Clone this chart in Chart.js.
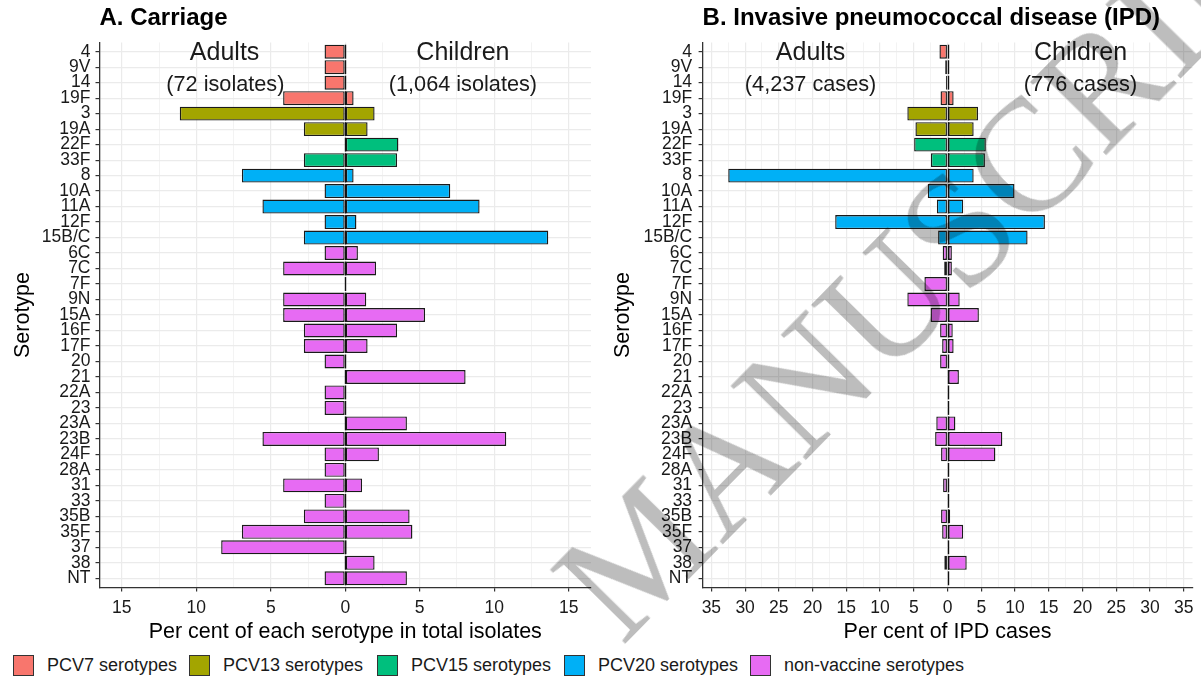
<!DOCTYPE html>
<html>
<head>
<meta charset="utf-8">
<title>Pneumococcal serotypes: carriage and invasive disease</title>
<script src="https://cdn.jsdelivr.net/npm/chart.js@4.4.1/dist/chart.umd.min.js"></script>
<style>
  html, body { margin: 0; padding: 0; background: #fff; }
  body { width: 1201px; height: 682px; position: relative; overflow: hidden;
         font-family: 'Liberation Sans', Arial, sans-serif; }
  canvas { position: absolute; top: 0; }
  #carriage { left: 0; }
  #ipd { left: 600px; }
  .key { position: absolute; top: 655px; height: 21px; display: flex; align-items: center;
         font-size: 18px; color: #1a1a1a; white-space: nowrap; }
  .key i { display: inline-block; width: 19px; height: 19px; border: 1px solid #333;
           margin-right: 13px; }
  #stamp { position: absolute; left: 622px; top: 513px; font-family: 'Liberation Serif', 'Times New Roman', serif;
           font-size: 160px; line-height: 1; color: #BDBDBD; white-space: nowrap;
           transform-origin: 0 134px; transform: rotate(-45.5deg); mix-blend-mode: multiply;
           pointer-events: none; }
</style>
</head>
<body>
<canvas id="carriage" width="600" height="650"></canvas>
<canvas id="ipd" width="601" height="650"></canvas>
<div id="legend"></div>
<div id="stamp">MANUSCRIPT</div>
<script>
// Serotypes, top to bottom
const serotypes = ['4','9V','14','19F','3','19A','22F','33F','8','10A','11A','12F','15B/C',
  '6C','7C','7F','9N','15A','16F','17F','20','21','22A','23','23A','23B','24F','28A',
  '31','33','35B','35F','37','38','NT'];

// Vaccine group of each serotype
const vaccineGroup = ['PCV7','PCV7','PCV7','PCV7','PCV13','PCV13','PCV15','PCV15',
  'PCV20','PCV20','PCV20','PCV20','PCV20',
  'NVT','NVT','NVT','NVT','NVT','NVT','NVT','NVT','NVT','NVT','NVT','NVT','NVT','NVT',
  'NVT','NVT','NVT','NVT','NVT','NVT','NVT','NVT'];

// A. Carriage: per cent of isolates (adults n=72, children n=1,064)
const carriageAdults = [1.39,1.39,1.39,4.17,11.11,2.78,0,2.78,6.94,1.39,5.56,1.39,2.78,
  1.39,4.17,0,4.17,4.17,2.78,2.78,1.39,0,1.39,1.39,0,5.56,1.39,1.39,4.17,1.39,2.78,6.94,8.33,0,1.39];
const carriageChildren = [0,0,0,0.56,1.97,1.50,3.57,3.48,0.56,7.05,9.02,0.75,13.63,
  0.85,2.07,0,1.41,5.36,3.48,1.50,0,8.08,0,0,4.14,10.81,2.26,0,1.13,0,4.32,4.51,0.09,1.97,4.14];

// B. IPD: per cent of cases (adults n=4,237, children n=776)
const ipdAdults = [1.20,0.35,0.25,1.04,5.96,4.76,4.95,2.46,32.5,2.93,1.58,16.65,1.40,
  0.72,0.50,3.43,5.96,2.52,1.10,0.80,1.10,0.09,0,0,1.67,1.84,0.96,0,0.66,0,0.96,0.80,0,0.48,0];
const ipdChildren = [0.13,0.13,0.13,0.90,4.51,3.87,5.67,5.54,3.87,9.92,2.32,14.43,11.86,
  0.64,0.64,0.13,1.80,4.64,0.77,0.90,0.13,1.68,0,0,1.16,8.12,7.09,0,0.13,0,0.39,2.32,0,2.84,0];

// Legend entries
const groupNames = ['PCV7','PCV13','PCV15','PCV20','NVT'];
const groupLabels = ['PCV7 serotypes','PCV13 serotypes','PCV15 serotypes','PCV20 serotypes','non-vaccine serotypes'];

// Styling
const FONT = "'Liberation Sans', Arial, sans-serif";
const groupColours = { PCV7: '#F8766D', PCV13: '#A3A500', PCV15: '#00BF7D', PCV20: '#00B0F6', NVT: '#E76BF3' };
const EDGE = '#1a1a1a';
const INK = '#1a1a1a';
const legendLeft = [13, 189, 377, 564, 750];

const fills = vaccineGroup.map(g => groupColours[g]);
const toBars = (values, sign) => values.map(v => (v === 0 ? null : sign * v));

// Outline at zero for every serotype (each bar band, including empty ones)
const zeroEdges = {
  id: 'zeroEdges',
  afterDatasetsDraw(chart) {
    const { ctx, scales: { x, y } } = chart;
    const step = y.getPixelForValue(1) - y.getPixelForValue(0);
    const x0 = Math.round(x.getPixelForValue(0)) + 0.5;
    ctx.save();
    ctx.strokeStyle = '#111';
    ctx.lineWidth = 1.4;
    chart.data.labels.forEach((_, i) => {
      const yc = y.getPixelForValue(i);
      ctx.beginPath();
      ctx.moveTo(x0, yc - 0.45 * step);
      ctx.lineTo(x0, yc + 0.45 * step);
      ctx.stroke();
    });
    ctx.restore();
  }
};

// Group headings inside the panels
const sideNotes = {
  id: 'sideNotes',
  afterDatasetsDraw(chart, args, opts) {
    const { ctx, scales: { x, y } } = chart;
    ctx.save();
    ctx.fillStyle = INK;
    ctx.textAlign = 'center';
    ctx.textBaseline = 'middle';
    (opts.items || []).forEach(it => {
      ctx.font = it.size + 'px ' + FONT;
      ctx.fillText(it.text, x.getPixelForValue(it.x), y.getPixelForValue(it.y));
    });
    ctx.restore();
  }
};

function panel(id, o) {
  const isMajor = v => Math.abs(v % 5) < 1e-6;
  return new Chart(document.getElementById(id), {
    type: 'bar',
    data: {
      labels: serotypes,
      datasets: [
        { label: 'Adults', data: toBars(o.adults, -1), backgroundColor: fills, borderColor: EDGE,
          borderWidth: 1.4, borderSkipped: false, barPercentage: 0.9, categoryPercentage: 1 },
        { label: 'Children', data: toBars(o.children, 1), backgroundColor: fills, borderColor: EDGE,
          borderWidth: 1.4, borderSkipped: false, barPercentage: 0.9, categoryPercentage: 1 }
      ]
    },
    options: {
      indexAxis: 'y',
      responsive: false,
      animation: false,
      devicePixelRatio: 1,
      layout: { padding: { left: 0, right: o.padRight, top: 0, bottom: 0 } },
      plugins: {
        legend: { display: false },
        tooltip: { enabled: false },
        title: { display: true, text: o.title, align: 'start', fullSize: false, color: '#000',
                 font: { family: FONT, size: 24, weight: 'bold' }, padding: { top: 3.9, bottom: 9.7 } },
        sideNotes: { items: o.notes }
      },
      scales: {
        x: {
          type: 'linear', stacked: true, min: -o.range, max: o.range,
          // major ticks every 5, minor grid every 2.5
          afterBuildTicks: s => {
            const t = [];
            for (let v = Math.ceil(s.min / 2.5) * 2.5; v <= s.max + 1e-9; v += 2.5) t.push({ value: v });
            s.ticks = t;
          },
          afterFit: s => { s.height = 62.4; },
          ticks: { stepSize: 2.5, autoSkip: false, maxRotation: 0, color: INK, padding: 6,
                   font: { family: FONT, size: 17.5 },
                   callback: v => (isMajor(v) ? String(Math.abs(v)) : '') },
          grid: {
            color: c => (c.tick && isMajor(c.tick.value) ? '#EBEBEB' : '#F3F3F3'),
            lineWidth: c => (c.tick && isMajor(c.tick.value) ? 1.2 : 1),
            tickColor: c => (c.tick && isMajor(c.tick.value) ? '#333' : 'rgba(0,0,0,0)'),
            tickLength: 4
          },
          border: { display: true, color: '#333', width: 1.3 },
          title: { display: true, text: o.xTitle, color: '#000', font: { family: FONT, size: 21.5 },
                   padding: { top: 0, bottom: 5.4 } }
        },
        y: {
          type: 'category', stacked: true, offset: true,
          afterBuildTicks: s => { s._startValue = -0.6; s._valueRange = s.getLabels().length + 0.2; },
          afterFit: s => { s.width = o.yWidth; },
          ticks: { autoSkip: false, color: INK, padding: o.yPad, font: { family: FONT, size: 17.5 } },
          grid: { offset: false, color: '#EBEBEB', lineWidth: 1.2, tickColor: '#333', tickLength: 4 },
          border: { display: true, color: '#333', width: 1.3 },
          title: { display: true, text: 'Serotype', color: '#000', font: { family: FONT, size: 21.5 },
                   padding: { top: 10.6, bottom: 0 } }
        }
      }
    },
    plugins: [zeroEdges, sideNotes]
  });
}

panel('carriage', {
  title: 'A. Carriage',
  xTitle: 'Per cent of each serotype in total isolates',
  adults: carriageAdults, children: carriageChildren,
  range: 16.5, yWidth: 99.5, yPad: 5, padRight: 9,
  notes: [
    { text: 'Adults', x: -8.1, y: 0.1, size: 25 },
    { text: '(72 isolates)', x: -8.05, y: 2.15, size: 21.7 },
    { text: 'Children', x: 7.9, y: 0.1, size: 25 },
    { text: '(1,064 isolates)', x: 7.9, y: 2.15, size: 21.7 }
  ]
});

panel('ipd', {
  title: 'B. Invasive pneumococcal disease (IPD)',
  xTitle: 'Per cent of IPD cases',
  adults: ipdAdults, children: ipdChildren,
  range: 36.3, yWidth: 102.6, yPad: 6.5, padRight: 8.5,
  notes: [
    { text: 'Adults', x: -20.3, y: 0.1, size: 25 },
    { text: '(4,237 cases)', x: -20.3, y: 2.15, size: 21.7 },
    { text: 'Children', x: 19.7, y: 0.1, size: 25 },
    { text: '(776 cases)', x: 19.7, y: 2.15, size: 21.7 }
  ]
});

// Shared legend along the bottom
const legend = document.getElementById('legend');
groupNames.forEach((g, i) => {
  const item = document.createElement('div');
  item.className = 'key';
  item.style.left = legendLeft[i] + 'px';
  const sw = document.createElement('i');
  sw.style.background = groupColours[g];
  item.appendChild(sw);
  item.appendChild(document.createTextNode(groupLabels[i]));
  legend.appendChild(item);
});
</script>
</body>
</html>
